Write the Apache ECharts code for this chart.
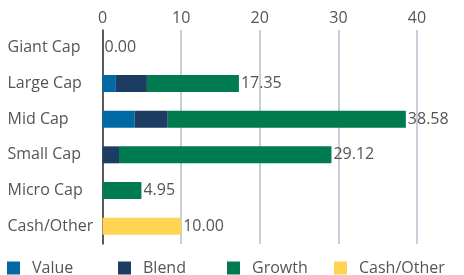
<!DOCTYPE html>
<html>
<head>
<meta charset="utf-8">
<script src="https://cdn.jsdelivr.net/npm/echarts@6/dist/echarts.min.js"></script>
<style>
html,body{margin:0;padding:0;background:#fff;}
#main{width:464px;height:275px;}
</style>
</head>
<body>
<div id="main"></div>
<script>
var categories = ['Giant Cap', 'Large Cap', 'Mid Cap', 'Small Cap', 'Micro Cap', 'Cash/Other'];
var valueData  = [0, 1.7, 4.1, 0, 0, 0];
var blendData  = [0, 3.95, 4.2, 2.1, 0, 0];
var growthData = [0, 11.7, 30.28, 27.02, 4.95, 0];
var cashData   = [0, 0, 0, 0, 0, 10.00];
var totals     = [0.00, 17.35, 38.58, 29.12, 4.95, 10.00];
var xTicks     = [0, 10, 20, 30, 40];
var legendNames = ['Value', 'Blend', 'Growth', 'Cash/Other'];
var legendLeft  = [7, 118, 227, 334];

var font = 'Open Sans';
var grey = '#555';
var fs = 16;

function stackSeries(name, data, color) {
	return {
		name: name,
		type: 'bar',
		stack: 'cap',
		barWidth: 17,
		data: data,
		itemStyle: { color: color },
		emphasis: { disabled: true }
	};
}

// one legend per item so they sit on even spacing like the original
var legends = [];
for (var i = 0; i < legendNames.length; i++) {
	legends.push({
		data: [legendNames[i]],
		left: legendLeft[i],
		top: 260,
		padding: 0,
		icon: 'rect',
		itemWidth: 13,
		itemHeight: 13,
		itemGap: 0,
		textStyle: { fontFamily: font, fontSize: fs, color: grey, padding: [0, 0, 0, 7] }
	});
}

var myChart = echarts.init(document.getElementById('main'));
var option = {
	animation: false,
	textStyle: { fontFamily: font },
	grid: { left: 102.5, right: 47, top: 30, bottom: 31, containLabel: false },
	legend: legends,
	xAxis: {
		type: 'value',
		position: 'top',
		min: xTicks[0],
		max: xTicks[xTicks.length - 1],
		interval: 10,
		axisLine: { show: false },
		axisTick: { show: false },
		axisLabel: { fontSize: fs, color: grey, margin: 4, fontFamily: font },
		splitLine: { lineStyle: { color: '#b3bfcc', width: 1.5 } }
	},
	yAxis: {
		type: 'category',
		inverse: true,
		data: categories,
		axisLine: { show: true, lineStyle: { color: '#333', width: 1.5 } },
		axisTick: { show: false },
		axisLabel: { fontSize: fs, color: grey, align: 'left', margin: 95, fontFamily: font }
	},
	series: [
		stackSeries('Value', valueData, '#0068a3'),
		stackSeries('Blend', blendData, '#1c3d61'),
		stackSeries('Growth', growthData, '#007a4f'),
		stackSeries('Cash/Other', cashData, '#ffd452'),
		{
			name: 'total',
			type: 'bar',
			barWidth: 17,
			barGap: '-100%',
			data: totals,
			itemStyle: { color: 'rgba(0,0,0,0)' },
			emphasis: { disabled: true },
			label: {
				show: true,
				position: 'right',
				distance: 2,
				fontSize: fs,
				color: grey,
				fontFamily: font,
				formatter: function (p) { return p.value.toFixed(2); }
			}
		}
	]
};
myChart.setOption(option);
</script>
</body>
</html>
